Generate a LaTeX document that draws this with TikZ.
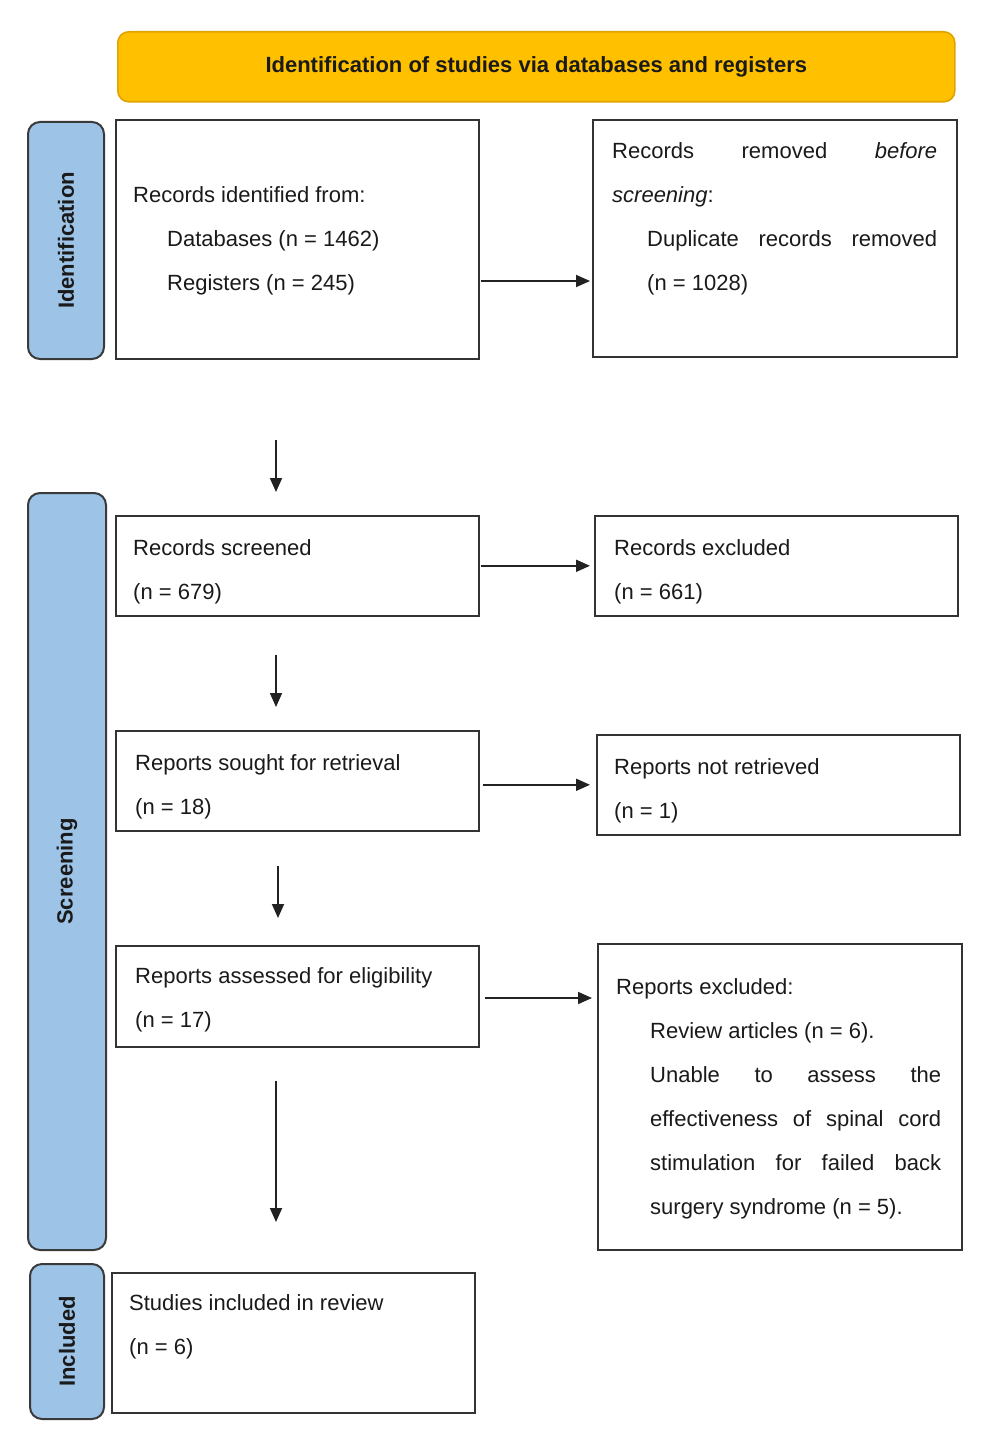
\documentclass[tikz,border=0pt]{standalone}
\usepackage{fontspec}
\setmainfont{Liberation Sans}
\usetikzlibrary{arrows.meta,calc}
\definecolor{banfill}{HTML}{FFC000}
\definecolor{banline}{HTML}{E0A400}
\definecolor{sidefill}{HTML}{9DC3E6}
\definecolor{sideline}{HTML}{3A3A3A}
\definecolor{boxline}{HTML}{333333}
\definecolor{txt}{HTML}{1A1A1A}
\definecolor{arrline}{HTML}{222222}
\begin{document}
\begin{tikzpicture}[x=1pt,y=-1pt,
  box/.style={draw=boxline, line width=1.6pt, anchor=north west, inner sep=0pt, fill=white},
  side/.style={draw=sideline, fill=sidefill, line width=2pt, rounded corners=12pt, anchor=north west, inner sep=0pt},
  sidelab/.style={rotate=90, inner sep=0pt, font=\bfseries\fontsize{22}{22}\selectfont, text=txt},
  body/.style={anchor=base west, align=left, inner sep=0pt, text=txt, font=\fontsize{22}{44}\selectfont},
  arr/.style={-{Triangle[length=14pt,width=12pt]}, line width=1.8pt, draw=arrline}]
\useasboundingbox (0,0) rectangle (986,1442);
\fill[white] (0,0) rectangle (986,1442);

% banner
\node[draw=banline, fill=banfill, line width=1.6pt, rounded corners=11pt, anchor=north west, inner sep=0pt,
      minimum width=837pt, minimum height=70pt] (banner) at (117,31) {};
\node[font=\bfseries\fontsize{22}{22}\selectfont, text=txt] (bantext) at (banner.center) {Identification of studies via databases and registers};

% side bars
\node[side, minimum width=76pt, minimum height=237pt] (sid) at (27,121) {};
\node[sidelab] (sidt) at (sid.center) {Identification};
\node[side, minimum width=78pt, minimum height=757pt] (sscr) at (27,492) {};
\node[sidelab] (sscrt) at (sscr.center) {Screening};
\node[side, minimum width=74pt, minimum height=155pt] (sinc) at (29,1263) {};
\node[sidelab] (sinct) at (sinc.center) {Included};

% boxes
\node[box, minimum width=363pt, minimum height=239pt] (b1) at (115,119) {};
\node[box, minimum width=364pt, minimum height=237pt] (b2) at (592,119) {};
\node[box, minimum width=363pt, minimum height=100pt] (s1) at (115,515) {};
\node[box, minimum width=363pt, minimum height=100pt] (s2) at (594,515) {};
\node[box, minimum width=363pt, minimum height=100pt] (r1) at (115,730) {};
\node[box, minimum width=363pt, minimum height=100pt] (r2) at (596,734) {};
\node[box, minimum width=363pt, minimum height=101pt] (e1) at (115,945) {};
\node[box, minimum width=364pt, minimum height=306pt] (e2) at (597,943) {};
\node[box, minimum width=363pt, minimum height=140pt] (inc) at (111,1272) {};

% texts (anchored at the baseline of their last line)
\node[body] (b1t) at (133,290) {Records identified from:\\\hspace*{34pt}Databases (n = 1462)\\\hspace*{34pt}Registers (n = 245)};
\node[body] (b2t) at (612,290) {\makebox[325pt][s]{Records removed \textit{before}}\\\textit{screening}:\\\hspace*{35pt}\makebox[290pt][s]{Duplicate records removed}\\\hspace*{35pt}(n = 1028)};
\node[body] (s1t) at (133,599) {Records screened\\(n = 679)};
\node[body] (s2t) at (614,599) {Records excluded\\(n = 661)};
\node[body] (r1t) at (135,814) {Reports sought for retrieval\\(n = 18)};
\node[body] (r2t) at (614,818) {Reports not retrieved\\(n = 1)};
\node[body] (e1t) at (135,1027) {Reports assessed for eligibility\\(n = 17)};
\node[body] (e2t) at (616,1214) {Reports excluded:\\
  \hspace*{34pt}Review articles (n = 6).\\
  \hspace*{34pt}\makebox[291pt][s]{Unable to assess the}\\
  \hspace*{34pt}\makebox[291pt][s]{effectiveness of spinal cord}\\
  \hspace*{34pt}\makebox[291pt][s]{stimulation for failed back}\\
  \hspace*{34pt}surgery syndrome (n = 5).};
\node[body] (inct) at (129,1354) {Studies included in review\\(n = 6)};

% arrows
\coordinate (ax) at (276,0);
\coordinate (ay1) at (0,281);
\draw[arr] ([xshift=1pt]b1.east |- ay1) -- ([xshift=-2pt]b2.west |- ay1);
\draw[arr] ([xshift=1pt]s1.east) -- ([xshift=-4pt]s2.west);
\draw[arr] ([xshift=3pt]r1.east |- r2.west) -- ([xshift=-6pt]r2.west);
\coordinate (ay4) at (0,998);
\draw[arr] ([xshift=5pt]e1.east |- ay4) -- ([xshift=-5pt]e2.west |- ay4);

\draw[arr] ([yshift=-80pt]b1.south -| ax) -- ([yshift=23pt]s1.north -| ax);
\draw[arr] ([yshift=-38pt]s1.south -| ax) -- ([yshift=23pt]r1.north -| ax);
\coordinate (ax3) at (278,0);
\draw[arr] ([yshift=-34pt]r1.south -| ax3) -- ([yshift=27pt]e1.north -| ax3);
\draw[arr] ([yshift=-33pt]e1.south -| ax) -- ([yshift=50pt]inc.north -| ax);
\end{tikzpicture}
\end{document}
